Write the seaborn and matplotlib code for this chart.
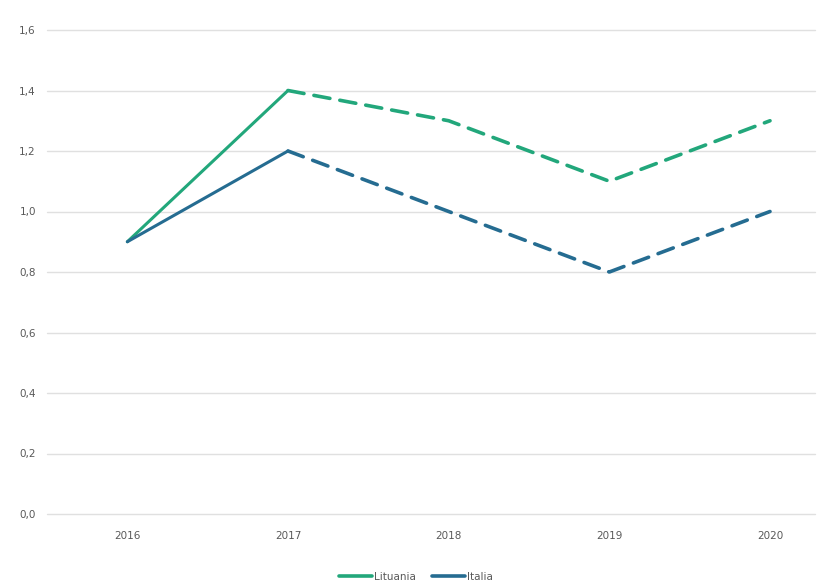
import matplotlib
matplotlib.use("Agg")
import matplotlib.pyplot as plt
import seaborn as sns
import pandas as pd
from matplotlib.lines import Line2D

# Dati: valori osservati fino al 2017, stime dal 2017 in poi
anni = ["2016", "2017", "2018", "2019", "2020"]
lituania = [0.9, 1.4, 1.3, 1.1, 1.3]
italia = [0.9, 1.2, 1.0, 0.8, 1.0]
ultimo_osservato = 1  # indice del 2017
y_ticks = [0.0, 0.2, 0.4, 0.6, 0.8, 1.0, 1.2, 1.4, 1.6]

serie = {"Lituania": lituania, "Italia": italia}
colori = {"Lituania": "#22a77b", "Italia": "#256c91"}

sns.set_theme(style="white")
plt.rcParams["font.family"] = ["DejaVu Sans"]

fig = plt.figure(figsize=(8.32, 5.87), dpi=100)
ax = fig.add_axes([47 / 832, 1 - 514 / 587, (815 - 47) / 832, (514 - 30) / 587])

for nome, valori in serie.items():
    df = pd.DataFrame({"x": range(len(anni)), "y": valori})
    oss = df.iloc[: ultimo_osservato + 1]
    prev = df.iloc[ultimo_osservato:]
    sns.lineplot(data=oss, x="x", y="y", ax=ax, color=colori[nome],
                 linewidth=2.2, solid_capstyle="round", legend=False)
    sns.lineplot(data=prev, x="x", y="y", ax=ax, color=colori[nome],
                 linewidth=2.6, dashes=False, legend=False,
                 linestyle=(0, (4.5, 2.8)), dash_capstyle="round")

ax.set_xlim(-0.5, 4.28)
ax.set_ylim(0, 1.6)
ax.set_xticks(range(len(anni)))
ax.set_xticklabels(anni)
ax.set_yticks(y_ticks)
ax.set_yticklabels([f"{v:.1f}".replace(".", ",") for v in y_ticks])
ax.tick_params(axis="both", length=0, labelsize=7.5, labelcolor="#595959")
ax.tick_params(axis="x", pad=12)
ax.tick_params(axis="y", pad=8)
ax.set_xlabel("")
ax.set_ylabel("")
ax.yaxis.grid(True, color="#e0e0e0", linewidth=1)
for g in ax.get_ygridlines():
    g.set_clip_on(False)
ax.set_axisbelow(True)
for s in ax.spines.values():
    s.set_visible(False)

handles = [Line2D([0], [0], color=colori[n], linewidth=2.6) for n in serie]
fig.legend(handles, list(serie.keys()), loc="center", bbox_to_anchor=(0.5, 1 - 577 / 587),
           ncol=2, frameon=False, fontsize=7.5, handlelength=3.2, handletextpad=0.2,
           columnspacing=1.5, labelcolor="#595959")

fig.savefig("out.png", dpi=100, facecolor="white")
